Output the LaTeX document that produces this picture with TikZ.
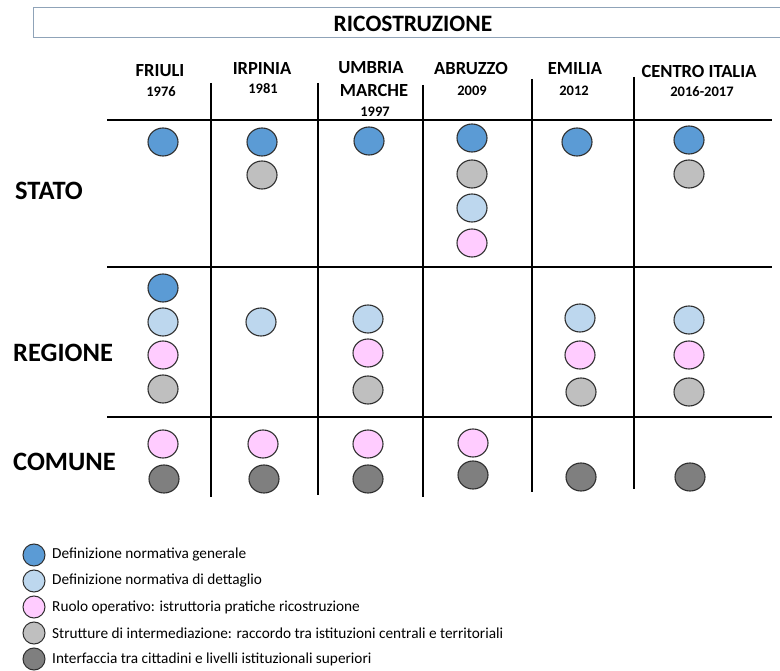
\documentclass[tikz,border=0pt]{standalone}
\usepackage{fontspec}
\setmainfont{Carlito}
\usetikzlibrary{shapes.geometric}
\definecolor{cblue}{HTML}{5B9BD5}
\definecolor{clblue}{HTML}{BDD7EE}
\definecolor{cpink}{HTML}{FFCCFF}
\definecolor{cgrey}{HTML}{BFBFBF}
\definecolor{cdgrey}{HTML}{7F7F7F}
\definecolor{cline}{HTML}{2F2F2F}
\definecolor{cbox}{HTML}{8FA3B8}
\tikzset{
  dot/.style={ellipse, draw=cline, line width=1.1pt, minimum width=30pt, minimum height=28pt, inner sep=0pt},
  ldot/.style={ellipse, draw=cline, line width=1pt, minimum width=22pt, minimum height=22pt, inner sep=0pt},
  b/.style={dot, fill=cblue}, lb/.style={dot, fill=clblue}, pk/.style={dot, fill=cpink},
  gr/.style={dot, fill=cgrey}, dg/.style={dot, fill=cdgrey},
  gridline/.style={line width=1.4pt, draw=black},
  head/.style={font=\bfseries\fontsize{18.5}{20}\selectfont, inner sep=0pt},
  year/.style={font=\bfseries\fontsize{14.5}{16}\selectfont, inner sep=0pt},
  rowlab/.style={font=\bfseries\fontsize{26.5}{28}\selectfont, anchor=west, inner sep=0pt},
  legtxt/.style={font=\fontsize{15.3}{17}\selectfont, anchor=west, inner sep=0pt}
}
\begin{document}
\begin{tikzpicture}[x=1pt,y=-1pt]
\useasboundingbox (0,0) rectangle (780,671);
\fill[white] (0,0) rectangle (780,671);
% title
\draw[cbox, line width=1pt] (33,8) rectangle (790,38);
\node[font=\bfseries\fontsize{23.5}{25}\selectfont, inner sep=0pt] (title) at (413,24) {RICOSTRUZIONE};
% headers
\node[head] (h1) at (160,71) {FRIULI};
\node[year] (y1) at (161,92) {1976};
\node[head] (h2) at (262,69) {IRPINIA};
\node[year] (y2) at (263,89) {1981};
\node[head] (h3) at (371,68) {UMBRIA};
\node[head] (h3b) at (374,91) {MARCHE};
\node[year] (y3) at (375,112) {1997};
\node[head] (h4) at (471,69) {ABRUZZO};
\node[year] (y4) at (472,91) {2009};
\node[head] (h5) at (575,69) {EMILIA};
\node[year] (y5) at (574,91) {2012};
\node[head] (h6) at (699,71) {CENTRO ITALIA};
\node[year] (y6) at (702,92) {2016-2017};
% grid
\draw[gridline] (107,120) -- (772,120);
\draw[gridline] (107,267) -- (772,267);
\draw[gridline] (107,417) -- (772,417);
\draw[gridline] (211,83) -- (211,497);
\draw[gridline] (318,83) -- (318,495);
\draw[gridline] (423,85) -- (423,497);
\draw[gridline] (532,79) -- (532,492);
\draw[gridline] (634,77) -- (634,489);
% row labels
\node[rowlab] (stato) at (15,191) {STATO};
\node[rowlab] (regione) at (13,353) {REGIONE};
\node[rowlab] (comune) at (13,462) {COMUNE};
% STATO
\node[b] (s1a) at (163,142) {};
\node[b] (s2a) at (262,142) {};
\node[gr] (s2b) at (262,175) {};
\node[b] (s3a) at (369,141) {};
\node[b] (s4a) at (472,138) {};
\node[gr] (s4b) at (472,174) {};
\node[lb] (s4c) at (472,208) {};
\node[pk] (s4d) at (472,243) {};
\node[b] (s5a) at (577,142) {};
\node[b] (s6a) at (689,140) {};
\node[gr] (s6b) at (689,174) {};
% REGIONE
\node[b] (r1a) at (163,288) {};
\node[lb] (r1b) at (163,322) {};
\node[pk] (r1c) at (163,355) {};
\node[gr] (r1d) at (163,389) {};
\node[lb] (r2a) at (261,322) {};
\node[lb] (r3a) at (368,319) {};
\node[pk] (r3b) at (368,353) {};
\node[gr] (r3c) at (368,390) {};
\node[lb] (r5a) at (580,318) {};
\node[pk] (r5b) at (580,355) {};
\node[gr] (r5c) at (581,392) {};
\node[lb] (r6a) at (689,320) {};
\node[pk] (r6b) at (689,355) {};
\node[gr] (r6c) at (689,392) {};
% COMUNE
\node[pk] (c1a) at (163,444) {};
\node[dg] (c1b) at (164,479) {};
\node[pk] (c2a) at (263,444) {};
\node[dg] (c2b) at (264,479) {};
\node[pk] (c3a) at (368,444) {};
\node[dg] (c3b) at (368,479) {};
\node[pk] (c4a) at (473,443) {};
\node[dg] (c4b) at (473,475) {};
\node[dg] (c5b) at (581,477) {};
\node[dg] (c6b) at (690,477) {};
% legend
\node[ldot, fill=cblue] (l1) at (34,555) {};
\node[legtxt] (t1) at (52,555) {Definizione normativa generale};
\node[ldot, fill=clblue] (l2) at (34,581) {};
\node[legtxt] (t2) at (52,581) {Definizione normativa di dettaglio};
\node[ldot, fill=cpink] (l3) at (34,607) {};
\node[legtxt] (t3) at (52,607) {Ruolo operativo: istruttoria pratiche ricostruzione};
\node[ldot, fill=cgrey] (l4) at (34,633) {};
\node[legtxt] (t4) at (52,633) {Strutture di intermediazione: raccordo tra istituzioni centrali e territoriali};
\node[ldot, fill=cdgrey] (l5) at (34,659) {};
\node[legtxt] (t5) at (52,659) {Interfaccia tra cittadini e livelli istituzionali superiori};
\end{tikzpicture}
\end{document}
